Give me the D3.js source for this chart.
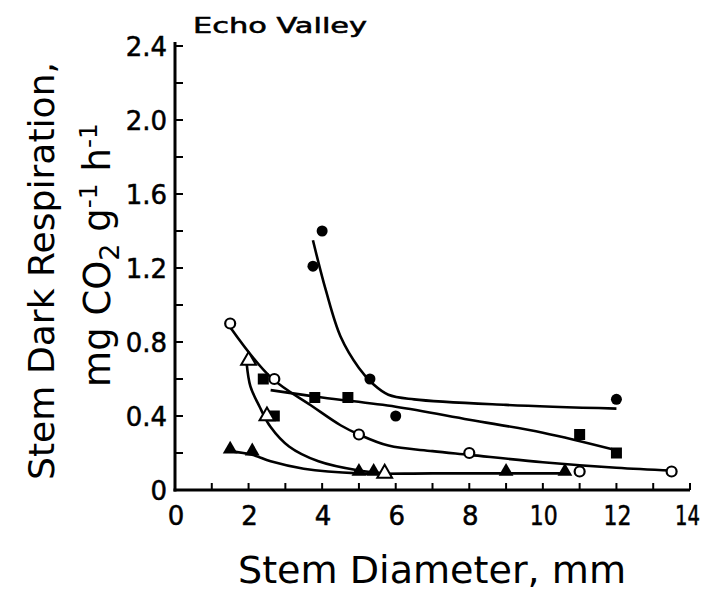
<!DOCTYPE html>
<html><head><meta charset="utf-8">
<script src="https://cdn.jsdelivr.net/npm/d3@7"></script>
<style>body{margin:0;background:#fff}svg{display:block}text{font-family:"DejaVu Sans",sans-serif;fill:#000}</style>
</head><body><svg id="c" width="707" height="600"></svg>
<script>
// ---- data ----
const xTickLabels = [0,2,4,6,8,10,12,14];
const yTickLabels = [0,0.4,0.8,1.2,1.6,2.0,2.4];
const filledCircles = [[3.75,1.21],[4.0,1.4],[5.3,0.6],[6.0,0.4],[12,0.49]];
const filledSquares = [[2.4,0.6],[2.7,0.4],[3.8,0.5],[4.7,0.5],[11,0.3],[12,0.2]];
const openCircles = [[1.5,0.9],[2.7,0.6],[5.0,0.3],[8.0,0.2],[11,0.1],[13.5,0.1]];
const openTriangles = [[2.0,0.7],[2.5,0.4],[5.7,0.09]];
const filledTriangles = [[1.5,0.22],[2.1,0.21],[5.0,0.1],[5.4,0.1],[9.0,0.1],[10.6,0.1]];
// fitted curves
const curveFilledCircles = [[3.75,1.35],[4.1,1.08],[4.5,0.83],[5.0,0.66],[5.4,0.57],[5.8,0.515],[6.5,0.49],[9,0.46],[12,0.44]];
const curveFilledSquares = [[2.6,0.54],[4,0.5],[6,0.45],[8,0.38],[10,0.31],[12,0.215]];
const curveOpenCircles = [[1.5,0.88],[2.6,0.61],[3.75,0.45],[4.5,0.35],[5.0,0.3],[5.8,0.24],[7,0.21],[8,0.19],[10,0.15],[12,0.12],[13.5,0.105]];
const curveOpenTriangles = [[1.95,0.68],[2.05,0.56],[2.3,0.45],[2.6,0.34],[3.1,0.235],[3.9,0.155],[5.0,0.105],[5.7,0.09]];
const curveFilledTriangles = [[1.5,0.21],[2.1,0.19],[2.6,0.155],[3.5,0.115],[5.0,0.09],[7,0.09],[10.6,0.09]];

const svg = d3.select("#c");
const x = d3.scaleLinear().domain([0,14]).range([175,690]);
const y = d3.scaleLinear().domain([0,2.4]).range([490,46]);

// axes lines
const g = svg.append("g");
g.append("line").attr("x1",x(0)).attr("x2",x(0)).attr("y1",y(0)+1.5).attr("y2",42).attr("stroke","#000").attr("stroke-width",3);
g.append("line").attr("x1",x(0)-1.5).attr("x2",x(14)).attr("y1",y(0)).attr("y2",y(0)).attr("stroke","#000").attr("stroke-width",3);
// ticks
const yt = d3.range(0.2,2.41,0.2);
g.selectAll(".yt").data(yt).join("line").attr("x1",x(0)).attr("x2",x(0)+8).attr("y1",d=>y(d)).attr("y2",d=>y(d)).attr("stroke","#000").attr("stroke-width",2);
const xt = d3.range(1,14.1,1);
g.selectAll(".xt").data(xt).join("line").attr("x1",d=>x(d)).attr("x2",d=>x(d)).attr("y1",y(0)).attr("y2",y(0)-7).attr("stroke","#000").attr("stroke-width",2);

// tick labels
g.selectAll(".xl").data(xTickLabels).join("text")
  .attr("x",d=>d===14?x(d)+10:x(d)+1).attr("y",525)
  .attr("text-anchor",d=>d===14?"end":"middle").attr("font-size",26)
  .attr("stroke","#000").attr("stroke-width",0.5)
  .each(function(d){ if(d>=10) d3.select(this).attr("textLength",d===14?25:28).attr("lengthAdjust","spacingAndGlyphs"); })
  .text(d=>d);
g.selectAll(".yl").data(yTickLabels).join("text").attr("x",167).attr("y",d=>y(d)+10).attr("text-anchor","end").attr("font-size",26)
  .attr("stroke","#000").attr("stroke-width",0.5).text(d=>d===0?"0":d.toFixed(1));

// titles
svg.append("text").attr("x",193).attr("y",33).attr("font-size",22).attr("stroke","#000").attr("stroke-width",0.6).attr("textLength",174).attr("lengthAdjust","spacingAndGlyphs").text("Echo Valley");
svg.append("text").attr("x",432).attr("y",583).attr("text-anchor","middle").attr("font-size",37).attr("textLength",388).attr("lengthAdjust","spacingAndGlyphs").text("Stem Diameter, mm");
svg.append("text").attr("transform","translate(54,271) rotate(-90)").attr("text-anchor","middle").attr("font-size",35).attr("textLength",418).attr("lengthAdjust","spacingAndGlyphs").text("Stem Dark Respiration,");
const t2 = svg.append("text").attr("transform","translate(110,255) rotate(-90)").attr("text-anchor","middle").attr("font-size",37);
t2.append("tspan").text("mg CO");
t2.append("tspan").attr("font-size",27).attr("dy",9).text("2");
t2.append("tspan").attr("dy",-9).text(" g");
t2.append("tspan").attr("font-size",25).attr("dy",-13).text("-1");
t2.append("tspan").attr("dy",13).text(" h");
t2.append("tspan").attr("font-size",25).attr("dy",-13).text("-1");

// curves
const line = d3.line().x(d=>x(d[0])).y(d=>y(d[1])).curve(d3.curveCatmullRom.alpha(0.5));
[curveFilledCircles,curveFilledSquares,curveOpenCircles,curveFilledTriangles,curveOpenTriangles].forEach(c=>{
  svg.append("path").attr("d",line(c)).attr("fill","none").attr("stroke","#000").attr("stroke-width",2.6);
});

// markers
svg.selectAll(".fc").data(filledCircles).join("circle").attr("cx",d=>x(d[0])).attr("cy",d=>y(d[1])).attr("r",5.5).attr("fill","#000");
svg.selectAll(".oc").data(openCircles).join("circle").attr("cx",d=>x(d[0])).attr("cy",d=>y(d[1])).attr("r",5).attr("fill","#fff").attr("stroke","#000").attr("stroke-width",2.2);
svg.selectAll(".fs").data(filledSquares).join("rect").attr("x",d=>x(d[0])-5.5).attr("y",d=>y(d[1])-5.5).attr("width",11).attr("height",11).attr("fill","#000");
const tri = d3.symbol().type(d3.symbolTriangle).size(95);
svg.selectAll(".ft").data(filledTriangles).join("path").attr("d",tri).attr("transform",d=>`translate(${x(d[0])},${y(d[1])})`).attr("fill","#000");
svg.selectAll(".ot").data(openTriangles).join("path").attr("d",tri).attr("transform",d=>`translate(${x(d[0])},${y(d[1])})`).attr("fill","#fff").attr("stroke","#000").attr("stroke-width",2);
</script></body></html>
